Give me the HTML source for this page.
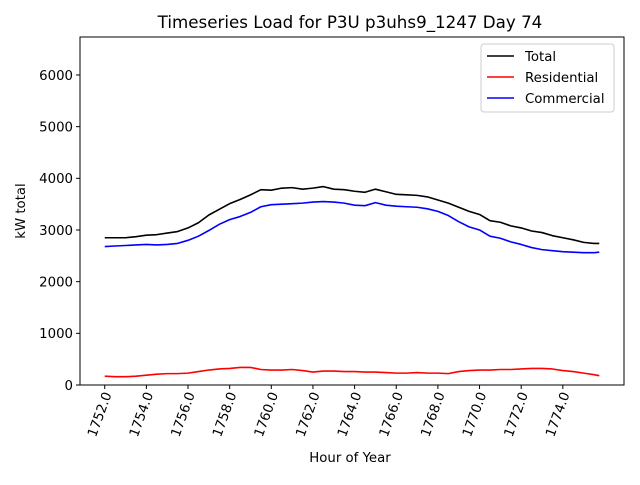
<!DOCTYPE html>
<html><head><meta charset="utf-8"><style>body{margin:0;background:#fff}svg{font-family:"DejaVu Sans","Liberation Sans",sans-serif}</style></head>
<body>
<svg id="chart" width="640" height="480" xmlns="http://www.w3.org/2000/svg">
<rect width="640" height="480" fill="#fff"/>
<text x="350" y="28" font-size="16.7" text-anchor="middle">Timeseries Load for P3U p3uhs9_1247  Day 74</text>
<g id="plot"></g>
<text x="350" y="462" font-size="13.3" text-anchor="middle">Hour of Year</text>
<text x="25" y="211" font-size="13.3" text-anchor="middle" transform="rotate(-90 25 211)">kW total</text>
</svg>
<script>
const hours = [1752,1752.5,1753,1753.5,1754,1754.5,1755,1755.5,1756,1756.5,1757,1757.5,1758,1758.5,1759,1759.5,1760,1760.5,1761,1761.5,1762,1762.5,1763,1763.5,1764,1764.5,1765,1765.5,1766,1766.5,1767,1767.5,1768,1768.5,1769,1769.5,1770,1770.5,1771,1771.5,1772,1772.5,1773,1773.5,1774,1774.5,1775,1775.5,1775.75];
const total = [2850,2850,2850,2870,2900,2910,2940,2970,3040,3140,3290,3400,3510,3590,3680,3780,3770,3810,3820,3790,3810,3840,3790,3780,3750,3730,3790,3740,3690,3680,3670,3640,3580,3520,3440,3360,3300,3180,3150,3080,3040,2980,2950,2890,2850,2810,2760,2740,2740];
const residential = [170,160,160,170,190,210,220,220,230,260,290,310,320,340,340,300,290,290,300,280,250,270,270,260,260,250,250,240,230,230,240,230,230,220,260,280,290,290,300,300,310,320,320,310,280,260,230,200,180];
const commercial = [2680,2690,2700,2710,2720,2710,2720,2740,2800,2880,2990,3110,3200,3260,3340,3450,3490,3500,3510,3520,3540,3550,3540,3520,3480,3470,3530,3480,3460,3450,3440,3410,3360,3280,3160,3060,3000,2880,2840,2770,2720,2660,2620,2600,2580,2570,2560,2560,2570];
const xTicks = [1752,1754,1756,1758,1760,1762,1764,1766,1768,1770,1772,1774];
const yTicks = [0,1000,2000,3000,4000,5000,6000];

const NS="http://www.w3.org/2000/svg";
const L=80,R=624,T=37,B=385;
const xmin=1750.8125,xmax=1776.9375,ymax=6735;
const xs=h=>L+(h-xmin)/(xmax-xmin)*(R-L);
const ys=v=>B-v/ymax*(B-T);
const g=document.getElementById('plot');
function mk(tag,attrs,parent){const e=document.createElementNS(NS,tag);for(const k in attrs)e.setAttribute(k,attrs[k]);(parent||g).appendChild(e);return e;}

const frame=mk('rect',{x:L,y:T,width:R-L,height:B-T,fill:'none',stroke:'#000','stroke-width':1});



yTicks.forEach(v=>{
  const y=ys(v);
  const t=mk('line',{x1:L-4,x2:L,y1:y,y2:y,stroke:'#000'});
  
  
  const lb=mk('text',{x:L-7,y:y+4.8,'font-size':13.3,'text-anchor':'end'});
  
  
  lb.textContent=v;
});
xTicks.forEach(h=>{
  const x=xs(h);
  const t=mk('line',{x1:x,x2:x,y1:B,y2:B+4,stroke:'#000'});
  
  
  const ax=x+7, ay=B+9;
  const lb=mk('text',{x:ax,y:ay,'font-size':13.3,'text-anchor':'end',transform:`rotate(-70 ${ax} ${ay})`});
  
  
  lb.textContent=h.toFixed(1);
});

function series(vals,color,name){
  const d=vals.map((v,i)=>(i?'L':'M')+xs(hours[i]).toFixed(2)+' '+ys(v).toFixed(2)).join(' ');
  const p=mk('path',{d:d,fill:'none',stroke:color,'stroke-width':1.6,'stroke-linejoin':'round'});
  
  
}
series(total,'#000','total-line');
series(residential,'#ff0000','residential-line');
series(commercial,'#0000ff','commercial-line');

const lg=mk('g',{});


mk('rect',{x:481,y:44,width:133,height:68,rx:3,fill:'#fff',stroke:'#ccc'},lg);
[['Total','#000'],['Residential','#ff0000'],['Commercial','#0000ff']].forEach((e,i)=>{
  const y=56+i*21;
  const ent=mk('g',{},lg);
  
  
  mk('line',{x1:487,x2:514,y1:y,y2:y,stroke:e[1],'stroke-width':1.6},ent);
  const t=mk('text',{x:525,y:y+4.8,'font-size':13.3},ent);
  t.textContent=e[0];
});
</script>
</body></html>
